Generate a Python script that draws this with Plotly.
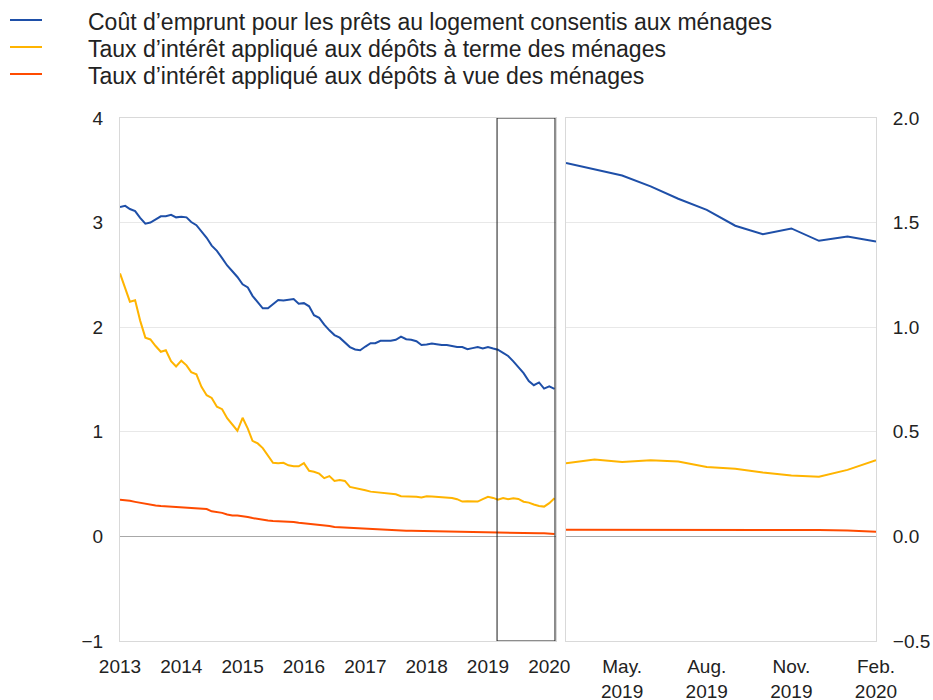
import pandas as pd
import plotly.graph_objects as go

W, H = 933, 700

months = pd.date_range("2013-01-01", periods=86, freq="MS")

loans = [3.15, 3.16, 3.13, 3.11, 3.045, 2.99, 3.00, 3.03, 3.06, 3.06, 3.075, 3.05,
         3.055, 3.05, 3.005, 2.975, 2.92, 2.855, 2.78, 2.73, 2.66, 2.59, 2.535, 2.48,
         2.41, 2.38, 2.30, 2.24, 2.18, 2.18, 2.22, 2.26, 2.255, 2.26, 2.27, 2.225,
         2.23, 2.20, 2.115, 2.09, 2.025, 1.97, 1.925, 1.90,
         1.857, 1.81, 1.787, 1.78, 1.815, 1.847, 1.847, 1.87, 1.87, 1.87, 1.88, 1.91,
         1.885, 1.88, 1.866, 1.83, 1.835, 1.844, 1.838, 1.83, 1.83, 1.82, 1.81, 1.81,
         1.79, 1.80, 1.81, 1.796, 1.81, 1.796,
         1.785, 1.755, 1.725, 1.673, 1.614, 1.561, 1.485, 1.445, 1.472, 1.413, 1.434, 1.410]

term = [2.514, 2.38, 2.244, 2.257, 2.063, 1.90, 1.883, 1.82, 1.765, 1.78, 1.676, 1.625,
        1.68, 1.635, 1.57, 1.55, 1.43, 1.35, 1.324, 1.24, 1.216, 1.13,
        1.073, 1.01, 1.134, 1.03, 0.914, 0.889, 0.844, 0.777, 0.704, 0.70, 0.704, 0.68,
        0.67, 0.67, 0.70, 0.627, 0.618, 0.60, 0.557, 0.576, 0.53, 0.54,
        0.530, 0.473, 0.464, 0.457, 0.441, 0.428, 0.422, 0.416, 0.416, 0.406,
        0.403, 0.384, 0.384, 0.384, 0.378, 0.371, 0.384, 0.381, 0.378, 0.375,
        0.368, 0.368, 0.356, 0.333, 0.336, 0.336, 0.333, 0.356, 0.378, 0.368,
        0.350, 0.367, 0.356, 0.364, 0.358, 0.332, 0.323, 0.305, 0.291, 0.285, 0.318, 0.364]

overnight = [0.350, 0.347, 0.340, 0.330, 0.320, 0.310, 0.300, 0.295, 0.290, 0.287,
             0.282, 0.276, 0.273, 0.270, 0.268, 0.266, 0.265, 0.262, 0.240, 0.235,
             0.225, 0.210, 0.200, 0.200, 0.195, 0.185, 0.175, 0.165, 0.158, 0.152,
             0.148, 0.146, 0.145, 0.143, 0.138, 0.130, 0.125, 0.122, 0.118, 0.113,
             0.108, 0.100, 0.090, 0.087,
             0.085, 0.083, 0.080, 0.078, 0.075, 0.072, 0.070, 0.066, 0.063, 0.060,
             0.058, 0.056, 0.055, 0.054, 0.053, 0.052, 0.050, 0.048, 0.046, 0.044,
             0.042, 0.041, 0.040, 0.039, 0.038, 0.037, 0.036, 0.035, 0.034, 0.033,
             0.032, 0.032, 0.032, 0.032, 0.031, 0.031, 0.031, 0.030, 0.030, 0.030, 0.028, 0.022]

names = ["Coût d’emprunt pour les prêts au logement consentis aux ménages",
         "Taux d’intérêt appliqué aux dépôts à terme des ménages",
         "Taux d’intérêt appliqué aux dépôts à vue des ménages"]
colors = ["#1e4fa8", "#ffb400", "#ff4b00"]
series = [loans, term, overnight]

year_ticks = [str(y) for y in range(2013, 2021)]
zoom_tickvals = ["2019-05-01", "2019-08-01", "2019-11-01", "2020-02-01"]
zoom_ticktext = ["May.<br>2019", "Aug.<br>2019", "Nov.<br>2019", "Feb.<br>2020"]

N_ZOOM = 12

fig = go.Figure()
for name, col, vals in zip(names, colors, series):
    fig.add_trace(go.Scatter(x=months, y=vals, mode="lines", name=name,
                             line=dict(color=col, width=2), showlegend=False,
                             xaxis="x", yaxis="y"))
for name, col, vals in zip(names, colors, series):
    fig.add_trace(go.Scatter(x=months[-N_ZOOM:], y=vals[-N_ZOOM:], mode="lines", name=name,
                             line=dict(color=col, width=2), showlegend=False,
                             xaxis="x2", yaxis="y2"))

tickfont_y = dict(family="Liberation Sans, Arial, sans-serif", size=19, color="#222222")
tickfont_x = dict(family="Liberation Sans, Arial, sans-serif", size=19, color="#222222")
frame = "#d9d9d9"
grid = "#e8e8e8"

ydom = [59 / H, 582 / H]

fig.update_layout(
    width=W, height=H,
    margin=dict(l=0, r=0, t=0, b=0),
    paper_bgcolor="white", plot_bgcolor="white",
    template="none",
    xaxis=dict(domain=[120 / W, 556 / W], type="date", anchor="y",
               range=["2013-01-01", "2020-02-10"],
               tickvals=[f"{y}-01-01" for y in year_ticks], ticktext=year_ticks,
               showgrid=False, showline=True, linecolor=frame, mirror=True,
               ticks="outside", ticklen=8, tickcolor="rgba(0,0,0,0)",
               tickfont=tickfont_x, automargin=False, zeroline=False),
    yaxis=dict(domain=ydom, anchor="x", range=[-1, 4], dtick=1, tick0=0,
               showgrid=True, gridcolor=grid, gridwidth=1,
               zeroline=True, zerolinecolor="#a8a8a8", zerolinewidth=1,
               showline=True, linecolor=frame, mirror=True,
               ticks="outside", ticklen=12, tickcolor="rgba(0,0,0,0)",
               tickfont=tickfont_y, automargin=False),
    xaxis2=dict(domain=[566 / W, 876 / W], type="date", anchor="y2",
                range=["2019-03-01", "2020-02-01"],
                tickvals=zoom_tickvals, ticktext=zoom_ticktext,
                showgrid=False, showline=True, linecolor=frame, mirror=True,
                ticks="outside", ticklen=8, tickcolor="rgba(0,0,0,0)",
                tickfont=tickfont_x, automargin=False, zeroline=False),
    yaxis2=dict(domain=ydom, anchor="x2", side="right", range=[-0.5, 2.0], dtick=0.5,
                tick0=0, tickformat=".1f",
                showgrid=True, gridcolor=grid, gridwidth=1,
                zeroline=True, zerolinecolor="#a8a8a8", zerolinewidth=1,
                showline=True, linecolor=frame, mirror=True,
                ticks="outside", ticklen=12, tickcolor="rgba(0,0,0,0)",
                tickfont=tickfont_y, automargin=False),
)

# highlight box for the zoomed period on the left panel
fig.add_shape(type="rect", xref="x", yref="y",
              x0="2019-02-24", x1="2020-02-04", y0=-1, y1=4,
              line=dict(color="#1a1a1a", width=1), fillcolor="rgba(0,0,0,0)")

# manual legend
leg_y = [20, 47, 74]
for name, col, py in zip(names, colors, leg_y):
    fig.add_shape(type="line", xref="paper", yref="paper",
                  x0=10 / W, x1=42 / W, y0=1 - py / H, y1=1 - py / H,
                  line=dict(color=col, width=2))
    fig.add_annotation(xref="paper", yref="paper", x=86 / W, y=1 - (py + 2) / H,
                       xanchor="left", yanchor="middle", showarrow=False,
                       text=name,
                       font=dict(family="Liberation Sans, Arial, sans-serif",
                                 size=23, color="#222222"))

fig.write_html("out.html",
               config={"displayModeBar": False, "responsive": False},
               post_script="document.body.style.margin='0';document.body.style.padding='0';"
                           "document.documentElement.style.overflow='hidden';")
